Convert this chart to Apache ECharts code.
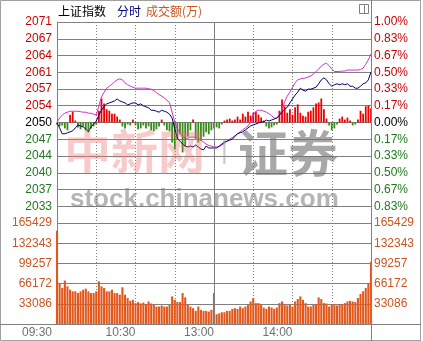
<!DOCTYPE html>
<html><head><meta charset="utf-8">
<script src="https://cdn.jsdelivr.net/npm/echarts@6/dist/echarts.min.js"></script>
<style>html,body{margin:0;padding:0;background:#fff}#c{width:423px;height:341px}</style>
</head><body><div id="c"></div>
<script>
const PREV_CLOSE = 2050.4;
const axisTimes = ['09:30', '10:30', '13:00', '14:00'];
const priceTicks = ['', '2033', '2037', '2040', '2044', '2047', '2050', '2054', '2057', '2061', '2064', '2067', '2071'];
const pctTicks = ['', '0.83%', '0.67%', '0.50%', '0.33%', '0.17%', '0.00%', '0.17%', '0.33%', '0.50%', '0.67%', '0.83%', '1.00%'];
const volTicks = ['', '33086', '66172', '99257', '132343', '165429'];

const price = [2050.3,2049.3,2048.1,2048.1,2048.3,2048.5,2048.7,2049.3,2049.9,2049.7,
 2049.5,2049.1,2048.5,2049.5,2050.1,2050.7,2051.9,2052.9,2053.7,2054.2,
 2054.4,2054.6,2054.8,2055.2,2054.8,2054.6,2054.4,2054.0,2054.2,2054.4,
 2054.4,2054.0,2054.2,2053.8,2053.6,2053.4,2052.9,2052.9,2052.7,2052.5,
 2052.9,2052.7,2052.5,2052.1,2051.3,2049.1,2047.2,2046.6,2046.0,2045.6,
 2045.4,2045.6,2045.4,2045.8,2045.4,2045.0,2044.8,2045.6,2045.2,2045.2,
 2045.2,2045.2,2045.6,2046.0,2046.4,2046.6,2046.8,2047.0,2047.6,2048.1,
 2048.3,2048.5,2048.9,2049.3,2049.7,2049.9,2050.1,2050.3,2050.5,2050.5,
 2050.9,2050.7,2050.9,2051.1,2051.3,2051.9,2052.5,2053.1,2053.5,2054.4,
 2055.2,2056.0,2056.6,2057.4,2057.0,2056.8,2057.2,2057.2,2057.4,2057.6,
 2058.3,2059.1,2059.5,2059.1,2058.3,2057.8,2058.1,2058.3,2058.1,2058.3,
 2058.1,2058.3,2057.8,2057.8,2057.4,2057.4,2057.8,2058.3,2058.5,2059.1,
 2060.7];

const avgLine = [2050.5,2051.3,2051.9,2052.3,2052.5,2052.7,2052.7,2052.7,2052.7,2052.6,
 2052.5,2052.5,2052.3,2052.3,2052.1,2051.9,2053.8,2055.6,2056.6,2057.4,
 2057.8,2058.2,2058.7,2059.1,2059.3,2059.1,2058.5,2058.1,2057.8,2057.6,
 2057.4,2057.4,2057.4,2057.4,2057.4,2057.3,2057.2,2056.9,2056.5,2056.1,
 2055.8,2055.4,2055.0,2054.4,2052.5,2050.5,2049.1,2048.3,2047.5,2047.2,
 2047.2,2047.4,2047.4,2047.4,2047.2,2046.8,2046.4,2046.0,2045.7,2045.6,
 2045.4,2045.4,2045.5,2045.8,2046.2,2046.6,2047.0,2047.3,2047.7,2048.1,
 2048.5,2048.9,2049.3,2049.7,2050.5,2051.9,2052.7,2052.9,2052.9,2052.7,
 2052.5,2052.2,2051.8,2051.3,2051.3,2051.9,2052.9,2054.6,2055.8,2056.6,
 2057.6,2058.5,2059.1,2059.3,2059.4,2059.5,2059.7,2059.9,2060.3,2060.8,
 2061.3,2061.9,2062.3,2062.5,2062.0,2061.3,2060.8,2060.8,2060.8,2060.9,
 2060.9,2061.1,2061.1,2061.1,2061.1,2061.1,2061.2,2061.5,2062.3,2063.2,
 2064.4];

const strength = [-0.4,-0.8,-0.6,-1.2,-1.6,1.6,2.2,0.4,-1.0,-1.4,
 -0.8,-1.6,-2.0,-1.2,-0.8,-0.4,2.4,4.9,3.9,2.7,
 2.4,1.8,1.8,1.2,0.6,-0.8,-1.2,-0.4,-0.6,0.6,
 -0.6,-1.4,-1.2,-0.6,-1.2,-0.8,-1.6,-1.8,-1.4,-0.8,
 0.6,-0.6,-1.6,-1.8,-4.1,-5.5,-3.5,-2.4,-6.1,-4.9,
 -2.9,-1.6,0.6,-3.3,-4.1,-3.7,-2.9,-2.0,-2.4,-1.6,
 -1.2,-1.0,-1.2,-0.4,0.4,0.6,0.8,0.4,0.6,1.2,
 0.6,1.8,1.2,2.2,1.4,2.0,2.2,1.6,1.0,0.4,
 -0.8,-1.2,-1.0,-0.6,-0.4,2.4,4.7,3.3,2.0,2.7,
 1.6,3.1,3.7,2.0,1.4,1.2,2.2,2.4,3.1,3.9,
 4.1,4.9,2.7,0.8,-0.6,-1.6,-1.2,-0.4,0.8,1.2,
 0.6,1.0,0.4,-0.6,-0.4,0.6,2.4,1.8,3.3,3.5,
 2.9];

const volume = [152700,65700,59000,71100,61700,56200,53500,53500,50700,53500,
 56200,57900,53500,50700,50700,53500,70000,61700,59000,53500,
 53500,56200,50700,50700,48000,60100,48000,42500,38000,39700,
 34200,35900,33600,35000,32600,36900,33600,31400,28600,28600,
 30300,28600,28600,31400,45200,39700,35900,35900,50700,43600,
 31400,28600,25900,21500,28600,23200,21500,21500,20400,23200,
 50700,16000,17600,19300,19300,21500,21500,24800,25900,24800,
 28600,25900,28600,31400,36900,42500,34200,34200,32600,27000,
 24800,28600,27000,24800,27000,34200,36900,31400,30300,31400,
 28600,36900,40800,45200,39700,34200,28600,28600,31400,32600,
 43600,40800,34200,33600,28600,32600,31400,30300,32600,31400,
 34200,36900,38000,36900,35900,42500,49100,53500,59000,65700,
 102000];

// time categories, one every two minutes (11:30 and 13:00 share a slot)
const categories = [];
for (let i = 0; i < price.length; i++) {
  let m = i < 60 ? 9 * 60 + 30 + i * 2 : 13 * 60 + (i - 60) * 2;
  categories.push(String(Math.floor(m / 60)).padStart(2, '0') + ':' + String(m % 60).padStart(2, '0'));
}

const STEP = PREV_CLOSE / 600;           // one grid row = 1/6 %
const toStep = v => +((v - PREV_CLOSE) / STEP).toFixed(4);
const VOL_STEP = 33086;

const FONT = '"Liberation Sans", Arial, sans-serif';
const RED = '#cc0000', GREEN = '#1e7a1e', ORANGE = '#cc5522', GRID = '#808080';
const rich = {
  r: { color: RED, fontSize: 12, fontFamily: FONT },
  g: { color: GREEN, fontSize: 12, fontFamily: FONT },
  k: { color: '#000', fontSize: 12, fontFamily: FONT }
};
const sideFmt = arr => v => {
  const t = arr[Math.round(v) + 6] || '';
  if (!t) return '';
  return '{' + (v > 0.5 ? 'r' : v < -0.5 ? 'g' : 'k') + '|' + t + '}';
};
const dottedIdx = idx => idx % 15 === 0 && idx !== 0 && idx !== 60 && idx !== 120;
const labelIdx = idx => (idx === 0 || idx === 30 || idx === 60 || idx === 90) && axisTimes.indexOf(categories[idx]) >= 0;

const midLine = {
  silent: true, symbol: 'none', label: { show: false },
  lineStyle: { color: GRID, type: 'solid', width: 1 },
  data: [{ xAxis: '13:00' }]
};

const option = {
  animation: false,
  backgroundColor: '#fff',
  grid: [
    { left: 57, right: 52, top: 22, height: 201 },
    { left: 57, right: 52, top: 223, height: 101 }
  ],
  xAxis: [
    { type: 'category', gridIndex: 0, data: categories, boundaryGap: false,
      axisLine: { show: false }, axisTick: { show: false }, axisLabel: { show: false },
      splitLine: { show: true, interval: dottedIdx, lineStyle: { color: GRID, type: [1, 2], width: 1 } } },
    { type: 'category', gridIndex: 1, data: categories, boundaryGap: false,
      axisLine: { show: false }, axisTick: { show: false },
      axisLabel: { show: true, interval: labelIdx, align: 'right', margin: 3,
        color: '#707070', fontSize: 12, fontFamily: FONT,
        formatter: (val, idx) => idx === 0 ? '{p|' + val + '}' : val,
        rich: { p: { padding: [0, 5, 0, 0], color: '#707070', fontSize: 12, fontFamily: FONT } } },
      splitLine: { show: true, interval: dottedIdx, lineStyle: { color: GRID, type: [1, 2], width: 1 } } }
  ],
  yAxis: [
    { type: 'value', gridIndex: 0, position: 'left', min: -6, max: 6, interval: 1,
      axisLine: { show: true, lineStyle: { color: GRID } }, axisTick: { show: false },
      splitLine: { show: true, lineStyle: { color: GRID, width: 1 } },
      axisLabel: { margin: 5, formatter: sideFmt(priceTicks), rich, showMinLabel: true, showMaxLabel: true } },
    { type: 'value', gridIndex: 0, position: 'right', min: -6, max: 6, interval: 1,
      axisLine: { show: false }, axisTick: { show: false }, splitLine: { show: false },
      axisLabel: { margin: 3, formatter: sideFmt(pctTicks), rich, showMinLabel: true, showMaxLabel: true } },
    { type: 'value', gridIndex: 1, position: 'left', min: 0, max: VOL_STEP * 5, interval: VOL_STEP,
      axisLine: { show: true, lineStyle: { color: GRID } }, axisTick: { show: false },
      splitLine: { show: true, lineStyle: { color: GRID, width: 1 } },
      axisLabel: { margin: 5, color: ORANGE, fontSize: 12, fontFamily: FONT, showMaxLabel: true,
        formatter: v => volTicks[Math.round(v / VOL_STEP)] || '' } },
    { type: 'value', gridIndex: 1, position: 'right', min: 0, max: VOL_STEP * 5, interval: VOL_STEP,
      axisLine: { show: false }, axisTick: { show: false }, splitLine: { show: false },
      axisLabel: { margin: 3, color: ORANGE, fontSize: 12, fontFamily: FONT, showMaxLabel: true,
        formatter: v => volTicks[Math.round(v / VOL_STEP)] || '' } }
  ],
  series: [
    { type: 'bar', xAxisIndex: 0, yAxisIndex: 0, barWidth: 1.8, z: 2,
      data: strength.map(v => ({ value: toStep(PREV_CLOSE + v), itemStyle: { color: v >= 0 ? '#ee0000' : '#3a8a1a' } })) },
    { type: 'line', xAxisIndex: 0, yAxisIndex: 0, data: avgLine.map(toStep), symbol: 'none', z: 3,
      lineStyle: { color: '#cc33cc', width: 1 } },
    { type: 'line', xAxisIndex: 0, yAxisIndex: 0, data: price.map(toStep), symbol: 'none', z: 4,
      lineStyle: { color: '#000066', width: 1 }, markLine: midLine },
    { type: 'bar', xAxisIndex: 1, yAxisIndex: 2, data: volume, barWidth: 2.1,
      itemStyle: { color: '#e2581c' }, markLine: midLine }
  ],
  graphic: [
    { type: 'rect', silent: true, z: 50, shape: { x: 0.5, y: 0.5, width: 420, height: 340 },
      style: { fill: null, stroke: '#a0a0a0', lineWidth: 1 } },
    { type: 'line', silent: true, z: 50, shape: { x1: 371.5, y1: 0, x2: 371.5, y2: 341 },
      style: { stroke: GRID, lineWidth: 1 } },
    { type: 'line', silent: true, z: 50, shape: { x1: 0, y1: 324.5, x2: 421, y2: 324.5 },
      style: { stroke: GRID, lineWidth: 1 } },
    { type: 'rect', silent: true, z: 50, shape: { x: 359.5, y: 4.5, width: 9, height: 9 },
      style: { fill: null, stroke: '#808080', lineWidth: 1 } },
    { type: 'line', silent: true, z: 50, shape: { x1: 364.5, y1: 4.5, x2: 364.5, y2: 13.5 },
      style: { stroke: '#808080', lineWidth: 1 } },
    { type: 'text', silent: true, z: 50, style: { text: '上证指数', x: 58, y: 11, fill: '#000',
      font: '12px "Noto Sans CJK SC"', textVerticalAlign: 'middle' } },
    { type: 'text', silent: true, z: 50, style: { text: '分时', x: 117, y: 11, fill: '#000080',
      font: '12px "Noto Sans CJK SC"', textVerticalAlign: 'middle' } },
    { type: 'text', silent: true, z: 50, style: { text: '成交额(万)', x: 146, y: 11, fill: ORANGE,
      font: '12px "Noto Sans CJK SC"', textVerticalAlign: 'middle' } },
    // watermark
    { type: 'text', silent: true, z: 40, style: { text: '中新网', x: 64, y: 151, fill: 'rgba(235,110,110,0.36)',
      font: 'bold 47px "Noto Sans CJK SC"', textVerticalAlign: 'middle' } },
    { type: 'text', silent: true, z: 40, style: { text: '|', x: 221, y: 152, fill: 'rgba(150,150,150,0.5)',
      font: '26px "Liberation Sans"', textVerticalAlign: 'middle' } },
    { type: 'text', silent: true, z: 40, style: { text: '证券', x: 238, y: 153, fill: 'rgba(110,110,110,0.6)',
      font: 'bold 50px "Noto Sans CJK SC"', textVerticalAlign: 'middle' } },
    { type: 'text', silent: true, z: 40, style: { text: 'stock.chinanews.com', x: 70, y: 200, fill: 'rgba(120,120,120,0.55)',
      font: 'bold 26px "Liberation Sans"', textVerticalAlign: 'middle' } }
  ]
};
const chart = echarts.init(document.getElementById('c'), null, { renderer: 'canvas', width: 423, height: 341 });
chart.setOption(option);
</script>
</body></html>
